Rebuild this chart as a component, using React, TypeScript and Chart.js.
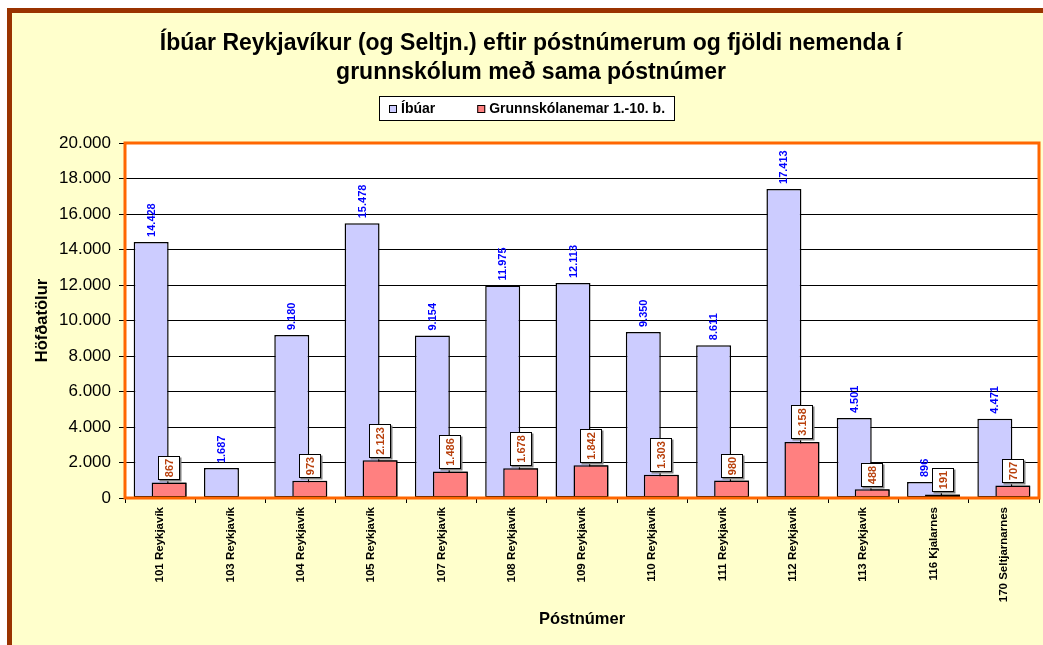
import React, { useEffect, useRef } from 'react';
import { Chart, registerables } from 'chart.js';

Chart.register(...registerables);

const categories = [
  '101 Reykjavík', '103 Reykjavík', '104 Reykjavík', '105 Reykjavík', '107 Reykjavík',
  '108 Reykjavík', '109 Reykjavík', '110 Reykjavík', '111 Reykjavík', '112 Reykjavík',
  '113 Reykjavík', '116 Kjalarnes', '170 Seltjarnarnes',
];
const ibuar = [14428, 1687, 9180, 15478, 9154, 11975, 12113, 9350, 8611, 17413, 4501, 896, 4471];
const nemendur = [867, null, 973, 2123, 1486, 1678, 1842, 1303, 980, 3158, 488, 191, 707];
const seriesNames = ['Íbúar', 'Grunnskólanemar 1.-10. b.'];
const titleLines = [
  'Íbúar Reykjavíkur (og Seltjn.) eftir póstnúmerum og fjöldi nemenda í',
  'grunnskólum með sama póstnúmer',
];
const yAxisTitle = 'Höfðatölur';
const xAxisTitle = 'Póstnúmer';
const yMin = 0;
const yMax = 20000;
const yStep = 2000;

const FONT = "'Liberation Sans', Arial, Helvetica, sans-serif";
const fmt = (v: number) => String(Math.round(v)).replace(/\B(?=(\d{3})+(?!\d))/g, '.');

const decorPlugin = {
  id: 'decor',
  beforeDraw(chart: any) {
    const { ctx, chartArea: a } = chart;
    ctx.save();
    ctx.fillStyle = '#ffffff';
    ctx.fillRect(a.left, a.top, a.right - a.left, a.bottom - a.top);
    ctx.restore();
  },
  afterDatasetsDraw(chart: any) {
    const ctx = chart.ctx;
    const a = chart.chartArea;
    // red series drawn over the blue one
    const m1 = chart.getDatasetMeta(1);
    m1.controller.draw();

    ctx.save();
    ctx.strokeStyle = '#FF6600';
    ctx.lineWidth = 3;
    ctx.strokeRect(a.left, a.top, a.right - a.left, a.bottom - a.top);
    ctx.restore();

    const m0 = chart.getDatasetMeta(0);
    const d0 = chart.data.datasets[0].data;
    const d1 = chart.data.datasets[1].data;
    ctx.save();
    ctx.font = `bold 11px ${FONT}`;
    m0.data.forEach((el: any, i: number) => {
      const v = d0[i];
      if (v == null) return;
      ctx.save();
      ctx.translate(el.x, el.y - 5);
      ctx.rotate(-Math.PI / 2);
      ctx.fillStyle = '#0000FF';
      ctx.textAlign = 'left';
      ctx.textBaseline = 'middle';
      ctx.fillText(fmt(v), 0, 0.5);
      ctx.restore();
    });
    m1.data.forEach((el: any, i: number) => {
      const v = d1[i];
      if (v == null) return;
      const t = fmt(v);
      const w = ctx.measureText(t).width;
      const bh = Math.round(w + 6);
      const bw = 22;
      const bottom = Math.round(el.y - 2.5);
      const left = Math.round(el.x - bw / 2);
      ctx.fillStyle = '#808080';
      ctx.fillRect(left + 1.5, bottom - bh + 1.5, bw, bh);
      ctx.fillStyle = '#ffffff';
      ctx.fillRect(left, bottom - bh, bw, bh);
      ctx.strokeStyle = '#000';
      ctx.lineWidth = 1;
      ctx.strokeRect(left + 0.5, bottom - bh + 0.5, bw - 1, bh - 1);
      ctx.save();
      ctx.translate(left + bw / 2, bottom - bh / 2);
      ctx.rotate(-Math.PI / 2);
      ctx.fillStyle = '#B8400C';
      ctx.textAlign = 'center';
      ctx.textBaseline = 'middle';
      ctx.fillText(t, 0, 0.5);
      ctx.restore();
    });
    ctx.restore();
  },
  afterDraw(chart: any) {
    // legend box
    const ctx = chart.ctx;
    const ds = chart.data.datasets;
    ctx.save();
    ctx.font = `bold 14px ${FONT}`;
    const sq = 8;
    const gapSq = 4;
    const gapItem = 42;
    const widths = ds.map((d: any) => ctx.measureText(d.label).width);
    let total = 0;
    widths.forEach((w: number, i: number) => {
      total += sq + gapSq + w + (i < widths.length - 1 ? gapItem : 0);
    });
    const padX = 10;
    const cx = 527;
    const cy = 108.5;
    const boxL = Math.round(cx - total / 2 - padX);
    const boxW = Math.round(total + padX * 2);
    const boxT = 96;
    const boxH = 25;
    ctx.fillStyle = '#ffffff';
    ctx.fillRect(boxL, boxT, boxW, boxH);
    ctx.strokeStyle = '#000';
    ctx.lineWidth = 1;
    ctx.strokeRect(boxL + 0.5, boxT + 0.5, boxW - 1, boxH - 1);
    let x = boxL + padX;
    ds.forEach((d: any, i: number) => {
      ctx.fillStyle = d.backgroundColor;
      ctx.fillRect(x, Math.round(cy - sq / 2), sq, sq);
      ctx.strokeStyle = '#000';
      ctx.strokeRect(x + 0.5, Math.round(cy - sq / 2) + 0.5, sq - 1, sq - 1);
      x += sq + gapSq;
      ctx.fillStyle = '#000';
      ctx.textAlign = 'left';
      ctx.textBaseline = 'middle';
      ctx.fillText(d.label, x, cy + 0.5);
      x += widths[i] + gapItem;
    });
    ctx.restore();
  },
};

export default function App() {
  const ref = useRef<HTMLCanvasElement | null>(null);

  useEffect(() => {
    document.body.style.overflow = 'hidden';
    const canvas = ref.current;
    if (!canvas) return;
    const chart = new Chart(canvas, {
      type: 'bar',
      data: {
        labels: categories,
        datasets: [
          {
            label: seriesNames[0],
            data: ibuar,
            backgroundColor: '#CCCCFF',
            borderColor: '#000000',
            borderWidth: 1.5,
            borderSkipped: false,
            categoryPercentage: 0.512,
            barPercentage: 1.944,
          },
          {
            label: seriesNames[1],
            data: nemendur,
            backgroundColor: '#FF8080',
            borderColor: '#000000',
            borderWidth: 1.5,
            borderSkipped: false,
            categoryPercentage: 0.512,
            barPercentage: 1.944,
          },
        ],
      } as any,
      options: {
        responsive: false,
        animation: false,
        devicePixelRatio: 1,
        layout: { padding: { top: 13, left: 23, right: 4, bottom: 0 } },
        plugins: {
          legend: { display: false },
          tooltip: { enabled: false },
          title: {
            display: true,
            text: titleLines,
            color: '#000',
            font: { family: FONT, size: 23, weight: 'bold', lineHeight: '29px' } as any,
            padding: { top: 16, bottom: 56 },
          },
        },
        scales: {
          x: {
            type: 'category',
            offset: true,
            grid: {
              offset: true,
              drawOnChartArea: false,
              drawTicks: true,
              tickLength: 5,
              color: '#000',
              lineWidth: 1,
            },
            border: { display: false },
            ticks: {
              autoSkip: false,
              minRotation: 90,
              maxRotation: 90,
              padding: 4,
              color: '#000',
              font: { family: FONT, size: 11.5, weight: 'bold' },
            },
            title: {
              display: true,
              text: xAxisTitle,
              color: '#000',
              font: { family: FONT, size: 16.5, weight: 'bold' },
              padding: { top: 0, bottom: 16 },
            },
            afterFit: (s: any) => {
              s.height = 147;
            },
          },
          y: {
            min: yMin,
            max: yMax,
            grid: { color: '#000', lineWidth: 1, tickLength: 6 },
            border: { display: false },
            ticks: {
              stepSize: yStep,
              padding: 8,
              color: '#000',
              font: { family: FONT, size: 17 },
              callback: (v: any) => fmt(Number(v)),
            },
            title: {
              display: true,
              text: yAxisTitle,
              color: '#000',
              font: { family: FONT, size: 16.5, weight: 'bold' },
              padding: { top: 10, bottom: 0 },
            },
            afterFit: (s: any) => {
              s.width = 102;
            },
          },
        },
      } as any,
      plugins: [decorPlugin],
    });
    return () => chart.destroy();
  }, []);

  return (
    <div style={{ position: 'fixed', left: 0, top: 0, width: 1043, height: 645, background: '#ffffff', overflow: 'hidden' }}>
      <div
        style={{
          position: 'absolute',
          left: 7,
          top: 8,
          width: 1100,
          height: 700,
          boxSizing: 'border-box',
          border: '5px solid #993300',
          background: '#FFFFCC',
        }}
      />
      <canvas
        ref={ref}
        width={1043}
        height={645}
        style={{ position: 'absolute', left: 0, top: 0, width: 1043, height: 645, display: 'block' }}
      />
    </div>
  );
}
